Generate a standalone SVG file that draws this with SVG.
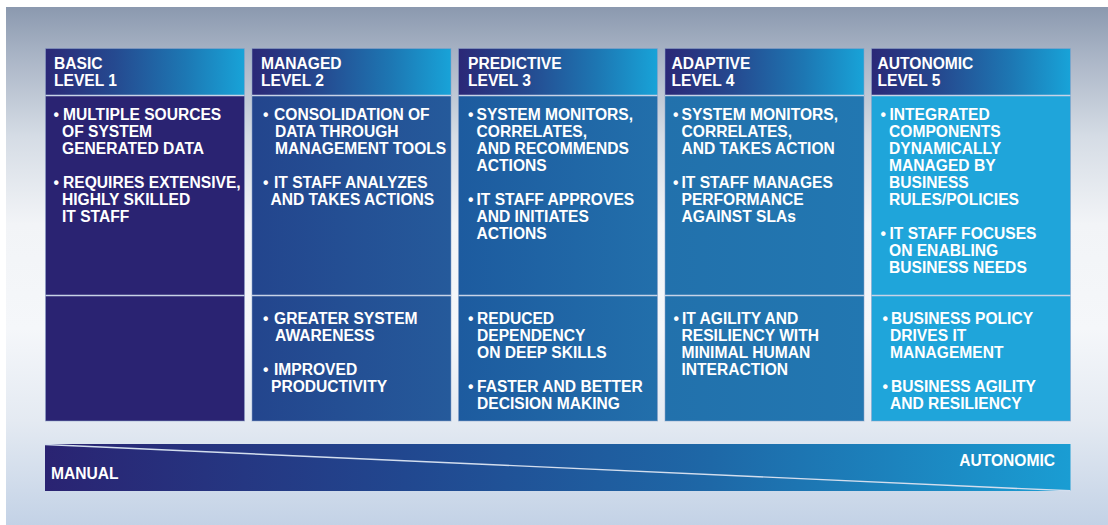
<svg xmlns="http://www.w3.org/2000/svg" width="1108" height="525" viewBox="0 0 1108 525">
<defs>
<linearGradient id="bg" x1="0" y1="0" x2="0" y2="1">
<stop offset="0" stop-color="#8b99af"/>
<stop offset="0.1" stop-color="#abb6c7"/>
<stop offset="0.25" stop-color="#d5dce5"/>
<stop offset="0.42" stop-color="#f2f4f7"/>
<stop offset="0.62" stop-color="#f5f7fa"/>
<stop offset="0.8" stop-color="#e4eaf2"/>
<stop offset="1" stop-color="#c3d2e6"/>
</linearGradient>
<linearGradient id="hdr" x1="0" y1="0" x2="1" y2="0">
<stop offset="0" stop-color="#2b2877"/>
<stop offset="0.35" stop-color="#254a90"/>
<stop offset="0.7" stop-color="#1d77b3"/>
<stop offset="1" stop-color="#18a3d8"/>
</linearGradient>
<linearGradient id="b2" x1="0" y1="0" x2="1" y2="0">
<stop offset="0" stop-color="#23458d"/>
<stop offset="1" stop-color="#255a9b"/>
</linearGradient>
<linearGradient id="b3" x1="0" y1="0" x2="1" y2="0">
<stop offset="0" stop-color="#1d5b9f"/>
<stop offset="1" stop-color="#226fab"/>
</linearGradient>
<linearGradient id="b4" x1="0" y1="0" x2="1" y2="0">
<stop offset="0" stop-color="#2271ac"/>
<stop offset="1" stop-color="#2277b1"/>
</linearGradient>
<linearGradient id="bar" x1="0" y1="0" x2="1" y2="0">
<stop offset="0" stop-color="#2a2372"/>
<stop offset="0.35" stop-color="#21478f"/>
<stop offset="0.65" stop-color="#1e68a7"/>
<stop offset="1" stop-color="#1a9dd3"/>
</linearGradient>
</defs>
<style>
text { font-family: "Liberation Sans", Arial, sans-serif; font-weight: bold; font-size: 15.6px; fill: #ffffff; }
.cell { stroke: #8da0c9; stroke-opacity: 0.55; stroke-width: 1; }
.sep { stroke: #c7d3e7; stroke-width: 1.6; }
</style>
<rect x="0" y="0" width="1108" height="525" fill="#ffffff"/>
<rect x="6" y="7" width="1102" height="518" fill="url(#bg)"/>

<g id="col1">
<rect class="cell" x="45.5" y="48.5" width="199" height="47" fill="url(#hdr)"/>
<rect class="cell" x="45.5" y="95.5" width="199" height="325.5" fill="#2a2372"/>
<line class="sep" x1="45.5" y1="95.5" x2="244.5" y2="95.5"/>
<line class="sep" x1="45.5" y1="295.5" x2="244.5" y2="295.5"/>
<text x="54" y="69">BASIC</text>
<text x="54" y="86">LEVEL 1</text>
<text y="120"><tspan x="53.5">•</tspan><tspan x="63">MULTIPLE SOURCES</tspan></text>
<text x="62" y="137">OF SYSTEM</text>
<text x="62" y="154">GENERATED DATA</text>
<text y="188"><tspan x="53.5">•</tspan><tspan x="63">REQUIRES EXTENSIVE,</tspan></text>
<text x="62" y="205">HIGHLY SKILLED</text>
<text x="62" y="222">IT STAFF</text>
</g>

<g id="col2">
<rect class="cell" x="252" y="48.5" width="199" height="47" fill="url(#hdr)"/>
<rect class="cell" x="252" y="95.5" width="199" height="325.5" fill="url(#b2)"/>
<line class="sep" x1="252" y1="95.5" x2="451" y2="95.5"/>
<line class="sep" x1="252" y1="295.5" x2="451" y2="295.5"/>
<text x="261" y="69">MANAGED</text>
<text x="261" y="86">LEVEL 2</text>
<text y="120"><tspan x="263">•</tspan><tspan x="274">CONSOLIDATION OF</tspan></text>
<text x="275" y="137">DATA THROUGH</text>
<text x="275" y="154">MANAGEMENT TOOLS</text>
<text y="188"><tspan x="263">•</tspan><tspan x="274">IT STAFF ANALYZES</tspan></text>
<text x="270.5" y="205">AND TAKES ACTIONS</text>
<text y="324"><tspan x="263">•</tspan><tspan x="274">GREATER SYSTEM</tspan></text>
<text x="275" y="341">AWARENESS</text>
<text y="375"><tspan x="263">•</tspan><tspan x="274">IMPROVED</tspan></text>
<text x="271" y="392">PRODUCTIVITY</text>
</g>

<g id="col3">
<rect class="cell" x="458.5" y="48.5" width="199" height="47" fill="url(#hdr)"/>
<rect class="cell" x="458.5" y="95.5" width="199" height="325.5" fill="url(#b3)"/>
<line class="sep" x1="458.5" y1="95.5" x2="657.5" y2="95.5"/>
<line class="sep" x1="458.5" y1="295.5" x2="657.5" y2="295.5"/>
<text x="468" y="69">PREDICTIVE</text>
<text x="468" y="86">LEVEL 3</text>
<text y="120"><tspan x="468">•</tspan><tspan x="476.5">SYSTEM MONITORS,</tspan></text>
<text x="476.5" y="137">CORRELATES,</text>
<text x="476.5" y="154">AND RECOMMENDS</text>
<text x="476.5" y="171">ACTIONS</text>
<text y="205"><tspan x="468">•</tspan><tspan x="476.5">IT STAFF APPROVES</tspan></text>
<text x="476.5" y="222">AND INITIATES</text>
<text x="476.5" y="239">ACTIONS</text>
<text y="324"><tspan x="468">•</tspan><tspan x="477">REDUCED</tspan></text>
<text x="477" y="341">DEPENDENCY</text>
<text x="477" y="358">ON DEEP SKILLS</text>
<text y="392"><tspan x="468">•</tspan><tspan x="477">FASTER AND BETTER</tspan></text>
<text x="477" y="409">DECISION MAKING</text>
</g>

<g id="col4">
<rect class="cell" x="665" y="48.5" width="199" height="47" fill="url(#hdr)"/>
<rect class="cell" x="665" y="95.5" width="199" height="325.5" fill="url(#b4)"/>
<line class="sep" x1="665" y1="95.5" x2="864" y2="95.5"/>
<line class="sep" x1="665" y1="295.5" x2="864" y2="295.5"/>
<text x="671.5" y="69">ADAPTIVE</text>
<text x="671.5" y="86">LEVEL 4</text>
<text y="120"><tspan x="673">•</tspan><tspan x="681.5">SYSTEM MONITORS,</tspan></text>
<text x="681.5" y="137">CORRELATES,</text>
<text x="681.5" y="154">AND TAKES ACTION</text>
<text y="188"><tspan x="673">•</tspan><tspan x="681.5">IT STAFF MANAGES</tspan></text>
<text x="681.5" y="205">PERFORMANCE</text>
<text x="681.5" y="222">AGAINST SLAs</text>
<text y="324"><tspan x="673.5">•</tspan><tspan x="682">IT AGILITY AND</tspan></text>
<text x="681.5" y="341">RESILIENCY WITH</text>
<text x="681.5" y="358">MINIMAL HUMAN</text>
<text x="681.5" y="375">INTERACTION</text>
</g>

<g id="col5">
<rect class="cell" x="871.5" y="48.5" width="199" height="47" fill="url(#hdr)"/>
<rect class="cell" x="871.5" y="95.5" width="199" height="325.5" fill="#1fa5da"/>
<line class="sep" x1="871.5" y1="95.5" x2="1070.5" y2="95.5"/>
<line class="sep" x1="871.5" y1="295.5" x2="1070.5" y2="295.5"/>
<text x="877.5" y="69">AUTONOMIC</text>
<text x="877.5" y="86">LEVEL 5</text>
<text y="120"><tspan x="880.5">•</tspan><tspan x="889.5">INTEGRATED</tspan></text>
<text x="889" y="137">COMPONENTS</text>
<text x="889" y="154">DYNAMICALLY</text>
<text x="889" y="171">MANAGED BY</text>
<text x="889" y="188">BUSINESS</text>
<text x="889" y="205">RULES/POLICIES</text>
<text y="239"><tspan x="880.5">•</tspan><tspan x="889.5">IT STAFF FOCUSES</tspan></text>
<text x="889" y="256">ON ENABLING</text>
<text x="889" y="273">BUSINESS NEEDS</text>
<text y="324"><tspan x="882.5">•</tspan><tspan x="891">BUSINESS POLICY</tspan></text>
<text x="890" y="341">DRIVES IT</text>
<text x="890" y="358">MANAGEMENT</text>
<text y="392"><tspan x="882.5">•</tspan><tspan x="891">BUSINESS AGILITY</tspan></text>
<text x="890" y="409">AND RESILIENCY</text>
</g>

<g id="scale">
<rect x="45" y="444" width="1025.5" height="47" fill="url(#bar)"/>
<line x1="45" y1="444.5" x2="1070.5" y2="490.8" stroke="#d3deee" stroke-width="1.4"/>
<text x="51" y="479">MANUAL</text>
<text x="1055" y="466" text-anchor="end">AUTONOMIC</text>
</g>
</svg>
